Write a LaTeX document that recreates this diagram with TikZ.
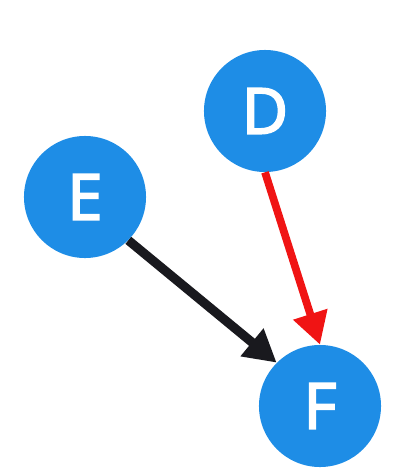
\documentclass[tikz,border=0pt]{standalone}
\usepackage{fontspec}
\setmainfont{Open Sans}
\newfontfamily\vtxfont{Open Sans}[FakeBold=3]
\usetikzlibrary{arrows.meta}

\definecolor{nodeblue}{RGB}{30,141,230}
\definecolor{arrred}{RGB}{240,20,20}
\definecolor{arrblack}{RGB}{25,25,30}

\begin{document}
\begin{tikzpicture}[
  x=0.025cm, y=-0.025cm,
  vtx/.style={
    circle, fill=nodeblue, minimum size=3.05cm, inner sep=0pt,
    text=white, font=\vtxfont\fontsize{45}{45}\selectfont
  },
  arr/.style={-{Triangle[length=0.8cm, width=0.85cm]}, line width=6.5pt},
]
\useasboundingbox (0,0) rectangle (400,474);

\node[vtx] (D) at (265,111) {D};
\node[vtx] (E) at (85,197)  {E};
\node[vtx] (F) at (320,406) {F};

\draw[arr, arrblack] (E.south east) -- (F.north west);
\draw[arr, arrred, line width=5.5pt] (D.south) -- (F.north);

\end{tikzpicture}
\end{document}
